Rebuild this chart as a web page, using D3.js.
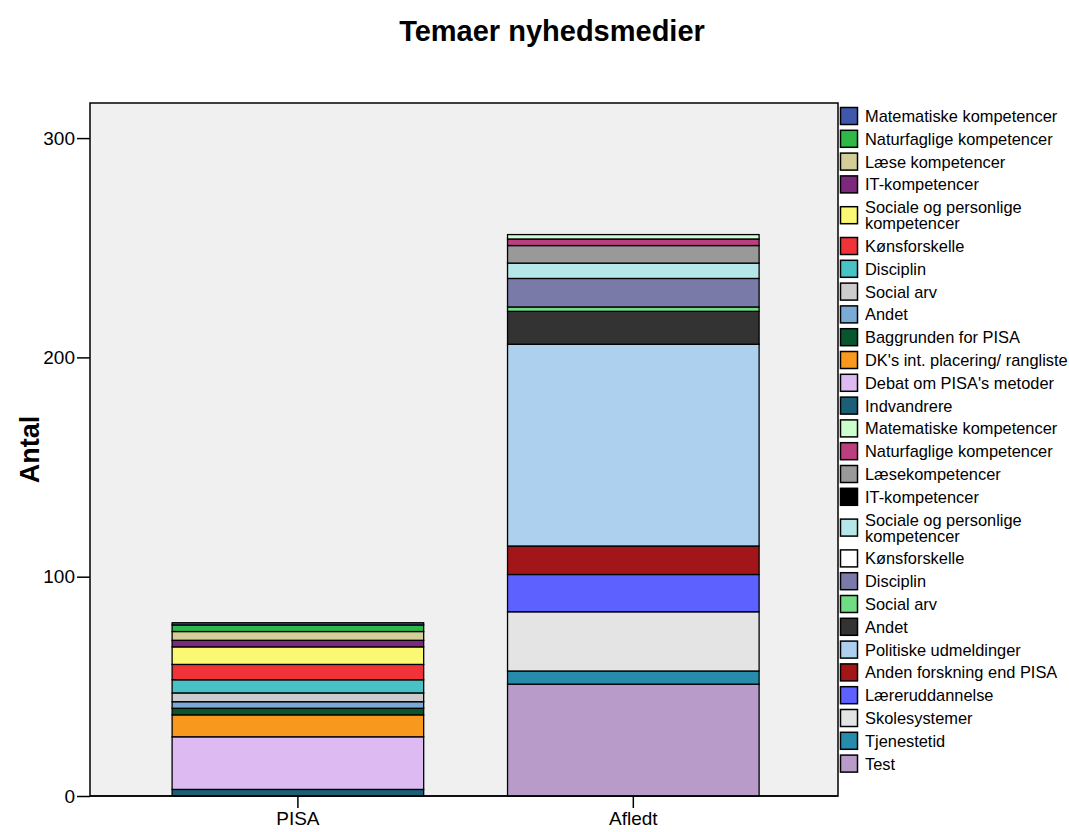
<!DOCTYPE html>
<html>
<head>
<meta charset="utf-8">
<script src="https://cdn.jsdelivr.net/npm/d3@7"></script>
<style>
	body { margin: 0; background: #fff; }
	svg { display: block; font-family: Arial, 'Liberation Sans', sans-serif; }
</style>
</head>
<body>
<div class="chart"></div>
<script>
const WIDTH = 1069
const HEIGHT = 832

const categories = ['PISA', 'Afledt']

// stacking order, bottom to top (legend reads top to bottom, so reversed)
const themes = [
	'Test', 'Tjenestetid', 'Skolesystemer', 'Læreruddannelse', 'Anden forskning end PISA',
	'Politiske udmeldinger', 'Andet', 'Social arv', 'Disciplin', 'Kønsforskelle',
	'Sociale og personlige kompetencer', 'IT-kompetencer', 'Læsekompetencer',
	'Naturfaglige kompetencer', 'Matematiske kompetencer',
	'Indvandrere', "Debat om PISA's metoder", "DK's int. placering/ rangliste",
	'Baggrunden for PISA', 'Andet', 'Social arv', 'Disciplin', 'Kønsforskelle',
	'Sociale og personlige kompetencer', 'IT-kompetencer', 'Læse kompetencer',
	'Naturfaglige kompetencer', 'Matematiske kompetencer',
]
const colors = [
	'#b89bc9', '#278bac', '#e4e4e4', '#5d61ff', '#a21619',
	'#acd0ee', '#333333', '#70dc84', '#797aa7', '#ffffff',
	'#b6e7e8', '#000000', '#999999',
	'#bb3f7f', '#ccffcc',
	'#1a5f76', '#ddbaf1', '#f8981d',
	'#0a562c', '#7aaad5', '#cccccc', '#48c2c5', '#ef3338',
	'#fbf873', '#7c287d', '#d3ce97',
	'#2eb848', '#3e58ac',
]
const pisaCounts = [0, 0, 0, 0, 0, 0, 0, 0, 0, 0, 0, 0, 0, 0, 0, 3, 24, 10, 3, 3, 4, 6, 7, 8, 3, 4, 3, 1]
const afledtCounts = [51, 6, 27, 17, 13, 92, 15, 2, 13, 0, 7, 0, 8, 3, 2, 0, 0, 0, 0, 0, 0, 0, 0, 0, 0, 0, 0, 0]
const yTicks = [0, 100, 200, 300]
const Y_MAX = 316

const margin = { top: 103, right: 231, bottom: 36, left: 90 }
const plotRight = WIDTH - margin.right
const plotBottom = HEIGHT - margin.bottom

function translate(x, y) {
	return `translate(${x}, ${y})`
}

const svg = d3.select('.chart').append('svg')
	.attr('width', WIDTH)
	.attr('height', HEIGHT)

const scaleX = d3.scaleBand()
	.domain(categories)
	.range([margin.left, plotRight])
	.paddingInner(0.25)
	.paddingOuter(0.24)
	.align(0.51)

const scaleY = d3.scaleLinear()
	.domain([0, Y_MAX])
	.range([plotBottom, margin.top])

const counts = [pisaCounts, afledtCounts]
const keys = d3.range(themes.length)
const table = categories.map((c, i) => {
	const row = { category: c }
	keys.forEach(k => { row[k] = counts[i][k] })
	return row
})
const series = d3.stack().keys(keys)(table)

// title
svg.append('text')
	.attr('x', 552)
	.attr('y', 41)
	.attr('text-anchor', 'middle')
	.style('font-size', '29px')
	.style('font-weight', 'bold')
	.text('Temaer nyhedsmedier')

// plot frame
svg.append('rect')
	.attr('x', margin.left)
	.attr('y', margin.top)
	.attr('width', plotRight - margin.left)
	.attr('height', plotBottom - margin.top)
	.attr('fill', '#f0f0f0')
	.attr('stroke', '#000')
	.attr('stroke-width', 1.5)

// bars
const plot = svg.append('g').attr('class', 'g-plot')

plot.selectAll('.layer')
	.data(series)
	.join('g')
	.attr('class', 'layer')
	.attr('fill', s => colors[s.key])
	.selectAll('rect')
	.data(s => s.filter(d => d[1] > d[0]))
	.join('rect')
	.attr('x', d => scaleX(d.data.category))
	.attr('width', scaleX.bandwidth())
	.attr('y', d => scaleY(d[1]))
	.attr('height', d => scaleY(d[0]) - scaleY(d[1]))
	.attr('stroke', '#000')
	.attr('stroke-width', 1.3)

// axes
const axisLeft = d3.axisLeft(scaleY)
	.tickValues(yTicks)
	.tickSize(13)
	.tickPadding(2)
	.tickFormat(d3.format('d'))

const axisBottom = d3.axisBottom(scaleX)
	.tickSize(12)
	.tickPadding(4)

const y = svg.append('g')
	.attr('class', 'axis axis--y')
	.attr('transform', translate(margin.left, 0))
	.call(axisLeft)

const x = svg.append('g')
	.attr('class', 'axis axis--x')
	.attr('transform', translate(0, plotBottom))
	.call(axisBottom)

svg.selectAll('.axis .domain').remove()
svg.selectAll('.axis line').attr('stroke', '#000').attr('stroke-width', 1.5)
svg.selectAll('.axis text')
	.attr('fill', '#000')
	.style('font-size', '19px')
	.style('font-family', 'Arial, "Liberation Sans", sans-serif')

svg.append('line')
	.attr('x1', margin.left)
	.attr('x2', plotRight)
	.attr('y1', plotBottom)
	.attr('y2', plotBottom)
	.attr('stroke', '#000')
	.attr('stroke-width', 1.5)

svg.append('text')
	.attr('transform', `${translate(39, (margin.top + plotBottom) / 2)} rotate(-90)`)
	.attr('text-anchor', 'middle')
	.style('font-size', '27px')
	.style('font-weight', 'bold')
	.text('Antal')

// legend
const ROW = 22.8
const LINE = 16
const MAX_TEXT = 210
const legendItems = keys.slice().reverse()
const legend = svg.append('g').attr('class', 'g-legend').style('font-size', '16.4px')

let cursor = 116 - ROW / 2
legendItems.forEach(k => {
	const item = legend.append('g')
	const label = item.append('text')
		.attr('x', 865)
		.attr('dominant-baseline', 'central')

	// wrap long names onto two lines
	const words = themes[k].split(' ')
	let lines = [themes[k]]
	label.text(themes[k])
	if (label.node().getComputedTextLength() > MAX_TEXT) {
		lines = []
		let line = []
		words.forEach(w => {
			line.push(w)
			label.text(line.join(' '))
			if (label.node().getComputedTextLength() > MAX_TEXT && line.length > 1) {
				line.pop()
				lines.push(line.join(' '))
				line = [w]
			}
		})
		lines.push(line.join(' '))
	}

	const h = ROW + (lines.length - 1) * LINE
	const cy = cursor + h / 2
	cursor += h

	label.text(null)
	label.selectAll('tspan')
		.data(lines)
		.join('tspan')
		.attr('x', 865)
		.attr('y', (d, i) => cy + (i - (lines.length - 1) / 2) * LINE)
		.text(d => d)

	item.append('rect')
		.attr('x', 840.5)
		.attr('y', cy - 8.5)
		.attr('width', 17)
		.attr('height', 17)
		.attr('fill', colors[k])
		.attr('stroke', '#000')
		.attr('stroke-width', 1.5)
})
</script>
</body>
</html>
